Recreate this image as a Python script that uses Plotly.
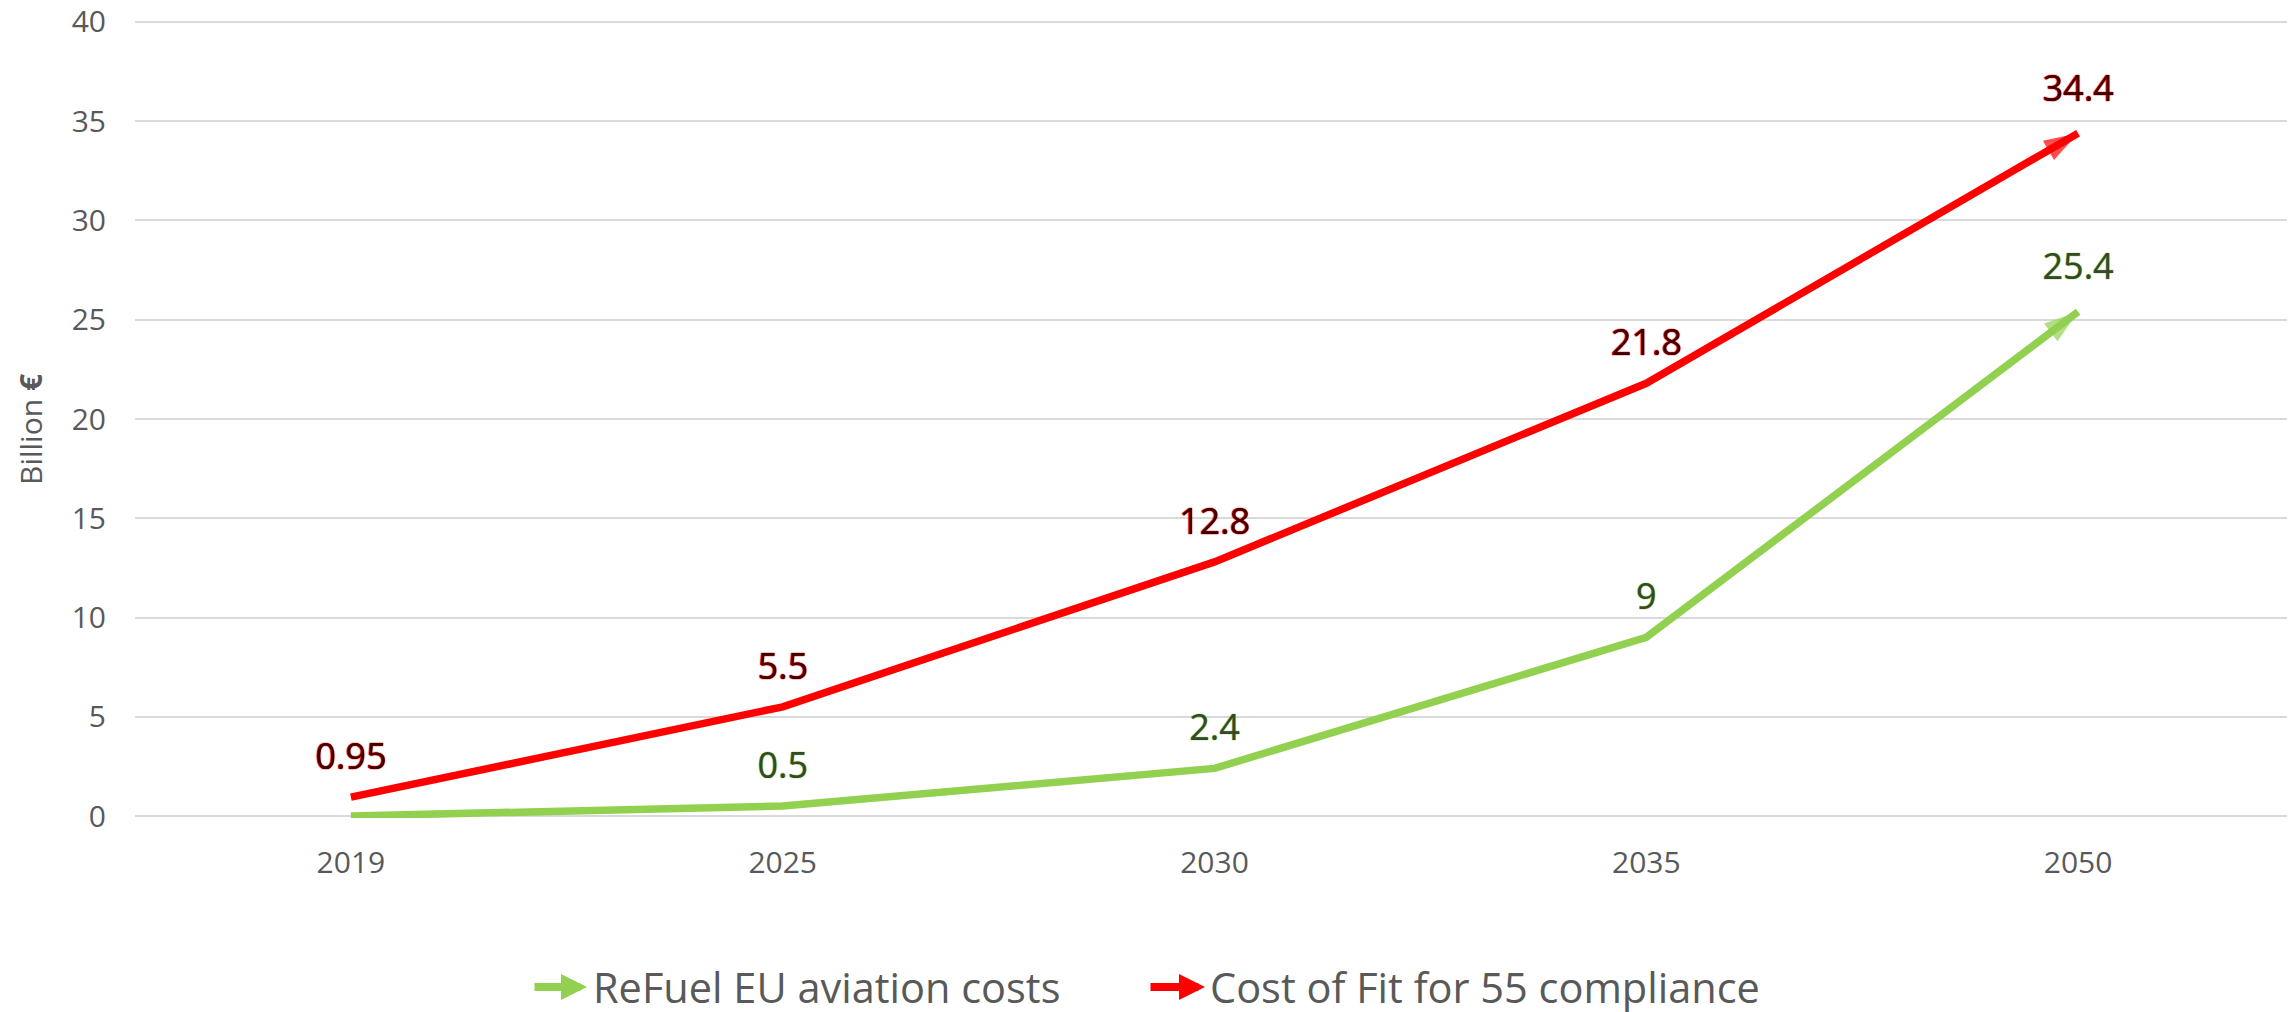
import plotly.graph_objects as go

years = ["2019", "2025", "2030", "2035", "2050"]
refuel_costs = [0, 0.5, 2.4, 9, 25.4]
fit55_costs = [0.95, 5.5, 12.8, 21.8, 34.4]
series_names = ["ReFuel EU aviation costs", "Cost of Fit for 55 compliance"]
y_ticks = [0, 5, 10, 15, 20, 25, 30, 35, 40]

GREEN = "#92d050"
RED = "#ff0000"
GREY = "#595959"
FONT = "Open Sans"

# the html page body has an 8px margin; size the figure so that it fits the window
OFF = 8
W, H = 2295 - OFF, 1012 - OFF
ML, MR, MT, MB = 135 - OFF, 1, 12, 194
PW = W - ML - MR
PH = H - MT - MB
Y_RANGE = [-0.1, 40.1]  # tiny padding so the 0 and 40 gridlines are drawn


def px_x(page_x):
    return (page_x - OFF - ML) / PW


def px_y(page_y):
    return (MT + PH - (page_y - OFF)) / PH


def labels(vals):
    return ["" if v == 0 else f"{v:g}" for v in vals]


def outline(c):
    return f"0 0 1px {c}, 0 0 1px {c}, 0 0 1px {c}"


def series(vals, color, label_color, name):
    n = len(vals)
    return go.Scatter(
        x=years, y=vals, name=name, mode="lines+markers+text",
        line=dict(color=color, width=7.5),
        marker=dict(
            symbol=["circle"] * (n - 1) + ["arrow"],
            size=[29] * (n - 1) + [36], angleref="previous",
            color=["rgba(0,0,0,0)"] * (n - 1) + [color],
            line=dict(width=0),
        ),
        text=labels(vals), textposition="top center",
        textfont=dict(family=FONT, size=36, color=label_color, shadow=outline(color)),
        showlegend=False, hoverinfo="skip", cliponaxis=False,
    )


fig = go.Figure()
fig.add_trace(series(refuel_costs, GREEN, "#34482a", series_names[0]))
fig.add_trace(series(fit55_costs, RED, "#3a0000", series_names[1]))

annotations = [
    dict(text="Billion <b>€</b>", xref="paper", yref="paper", x=px_x(30), y=px_y(430),
         xanchor="center", yanchor="middle", textangle=-90,
         showarrow=False, font=dict(family=FONT, size=30, color=GREY)),
]

# manual legend (arrow + text)
leg_y = px_y(987)
for tail_px, tip_px, text_px, color, name in [
    (533, 587, 591, GREEN, series_names[0]),
    (1149, 1205, 1208, RED, series_names[1]),
]:
    annotations.append(dict(
        xref="paper", yref="paper", x=px_x(tip_px), y=leg_y,
        ax=tail_px - tip_px, ay=0, axref="pixel", ayref="pixel",
        showarrow=True, arrowhead=2, arrowsize=0.65, arrowwidth=8, arrowcolor=color,
        text="",
    ))
    annotations.append(dict(
        xref="paper", yref="paper", x=px_x(text_px), y=leg_y,
        xanchor="left", yanchor="middle", showarrow=False, text=name,
        font=dict(family=FONT, size=41.5, color=GREY),
    ))

fig.update_layout(
    width=W, height=H,
    margin=dict(l=ML, r=MR, t=MT, b=MB, autoexpand=False),
    paper_bgcolor="white", plot_bgcolor="white",
    showlegend=False,
    annotations=annotations,
    xaxis=dict(type="category", range=[-0.5, len(years) - 0.5], showgrid=False,
               showline=False, zeroline=False, ticks="", automargin=False,
               tickfont=dict(family=FONT, size=30, color=GREY), ticklabelstandoff=24),
    yaxis=dict(range=Y_RANGE, tickvals=y_ticks, showgrid=True, gridcolor="#d9d9d9",
               gridwidth=2, zeroline=False, showline=False, ticks="", automargin=False,
               ticklabeloverflow="allow",
               tickfont=dict(family=FONT, size=30, color=GREY), ticklabelstandoff=28),
)

fig.write_html("out.html")
